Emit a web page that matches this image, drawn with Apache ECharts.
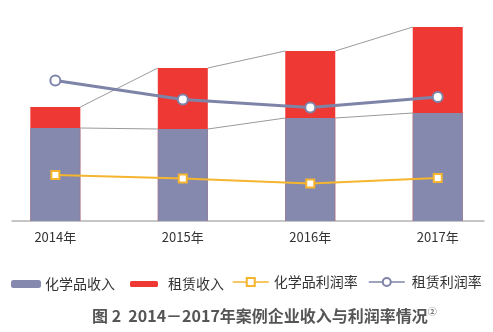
<!DOCTYPE html>
<html>
<head>
<meta charset="utf-8">
<script src="https://cdn.jsdelivr.net/npm/echarts@6/dist/echarts.min.js"></script>
<style>html,body{margin:0;padding:0;background:#fff}#c{width:493px;height:332px}</style>
</head>
<body>
<div id="c"></div>
<script>
// ---- data ----
var years = [2014, 2015, 2016, 2017];
var chemRevenue = [93, 92, 103, 108];      // 化学品收入
var leaseRevenue = [21, 61, 67, 86];       // 租赁收入
var chemMargin = [9.2, 8.5, 7.5, 8.6];     // 化学品利润率 (%)
var leaseMargin = [28.1, 24.3, 22.7, 24.8];// 租赁利润率 (%)

var FONT = '"Noto Sans CJK SC", "Noto Sans", sans-serif';
var BAR_W = 50;
var chemColor = '#8489AD', leaseColor = '#EE3833', yellow = '#F5B52E', purple = '#7E84A8';

function pairs(ys) { return years.map(function (y, i) { return [y, ys[i]]; }); }
// stacked top of the lease segment = chemical + lease
var totals = chemRevenue.map(function (v, i) { return v + leaseRevenue[i]; });
var links = [];
for (var i = 0; i < years.length - 1; i++) links.push([years[i], years[i + 1]]);

var chart = echarts.init(document.getElementById('c'), null, { renderer: 'canvas' });
chart.setOption({
  animation: false,
  textStyle: { fontFamily: FONT },
  grid: { left: 12, right: 9, top: 21, bottom: 111 },
  xAxis: {
    type: 'value', min: 2013.66, max: 2017.363,
    axisLine: { show: true, lineStyle: { color: '#b4b4b4', width: 1.5 } },
    axisTick: { show: false },
    splitLine: { show: false },
    axisLabel: {
      customValues: years, margin: 10, fontSize: 13, color: '#333', fontFamily: FONT,
      formatter: function (v) { return v + '年'; }
    }
  },
  yAxis: [
    { type: 'value', min: 0, max: 200, show: false, splitLine: { show: false } },
    { type: 'value', min: 0, max: 40, show: false, splitLine: { show: false } }
  ],
  title: {
    text: '图 2  2014－2017年案例企业收入与利润率情况{sup|②}',
    left: 92, top: 307, padding: 0,
    textStyle: {
      fontFamily: FONT, fontSize: 16, fontWeight: 'bold', color: '#555',
      rich: { sup: { fontSize: 9, color: '#777', verticalAlign: 'top', padding: [0, 0, 9, 0] } }
    }
  },
  legend: [
    { data: ['化学品收入'], left: 11, top: 277, padding: 0, itemWidth: 28, itemHeight: 6,
      textStyle: { fontSize: 14, color: '#333', fontFamily: FONT } },
    { data: ['租赁收入'], left: 130, top: 277, padding: 0, itemWidth: 28, itemHeight: 6,
      textStyle: { fontSize: 14, color: '#333', fontFamily: FONT, padding: [0, 0, 0, 5] } },
    { data: ['化学品利润率'], left: 232, top: 275, padding: 0, itemWidth: 36, itemHeight: 10,
      lineStyle: { width: 1.5 },
      textStyle: { fontSize: 14, color: '#333', fontFamily: FONT } },
    { data: ['租赁利润率'], left: 368, top: 275, padding: 0, itemWidth: 36, itemHeight: 10,
      lineStyle: { width: 1.5 },
      textStyle: { fontSize: 14, color: '#333', fontFamily: FONT, padding: [0, 0, 0, 2] } }
  ],
  series: [
    {
      name: '租赁收入', type: 'bar', barWidth: BAR_W,
      itemStyle: { color: leaseColor }, data: pairs(totals), z: 2
    },
    {
      name: '化学品收入', type: 'bar', barWidth: BAR_W, barGap: '-100%',
      itemStyle: { color: chemColor, borderColor: chemColor, borderWidth: 1 },
      data: pairs(chemRevenue), z: 3
    },
    {
      name: 'links', type: 'custom', coordinateSystem: 'cartesian2d', z: 1,
      data: links, silent: true,
      renderItem: function (params, api) {
        var k = params.dataIndex;
        var a1 = api.coord([years[k], chemRevenue[k]]), b1 = api.coord([years[k + 1], chemRevenue[k + 1]]);
        var a2 = api.coord([years[k], totals[k]]), b2 = api.coord([years[k + 1], totals[k + 1]]);
        var h = BAR_W / 2;
        var st = { stroke: '#9a9a9a', lineWidth: 1 };
        return { type: 'group', children: [
          { type: 'line', shape: { x1: a1[0] + h, y1: a1[1], x2: b1[0] - h, y2: b1[1] }, style: st },
          { type: 'line', shape: { x1: a2[0] + h, y1: a2[1], x2: b2[0] - h, y2: b2[1] }, style: st }
        ] };
      }
    },
    {
      name: '化学品利润率', type: 'line', yAxisIndex: 1, z: 4,
      symbol: 'rect', symbolSize: 8,
      lineStyle: { color: yellow, width: 2 },
      itemStyle: { color: '#fff', borderColor: yellow, borderWidth: 2 },
      data: pairs(chemMargin)
    },
    {
      name: '租赁利润率', type: 'line', yAxisIndex: 1, z: 4,
      symbol: 'circle', symbolSize: 10,
      lineStyle: { color: purple, width: 3 },
      itemStyle: { color: '#fff', borderColor: purple, borderWidth: 2 },
      data: pairs(leaseMargin)
    }
  ]
});
</script>
</body>
</html>
